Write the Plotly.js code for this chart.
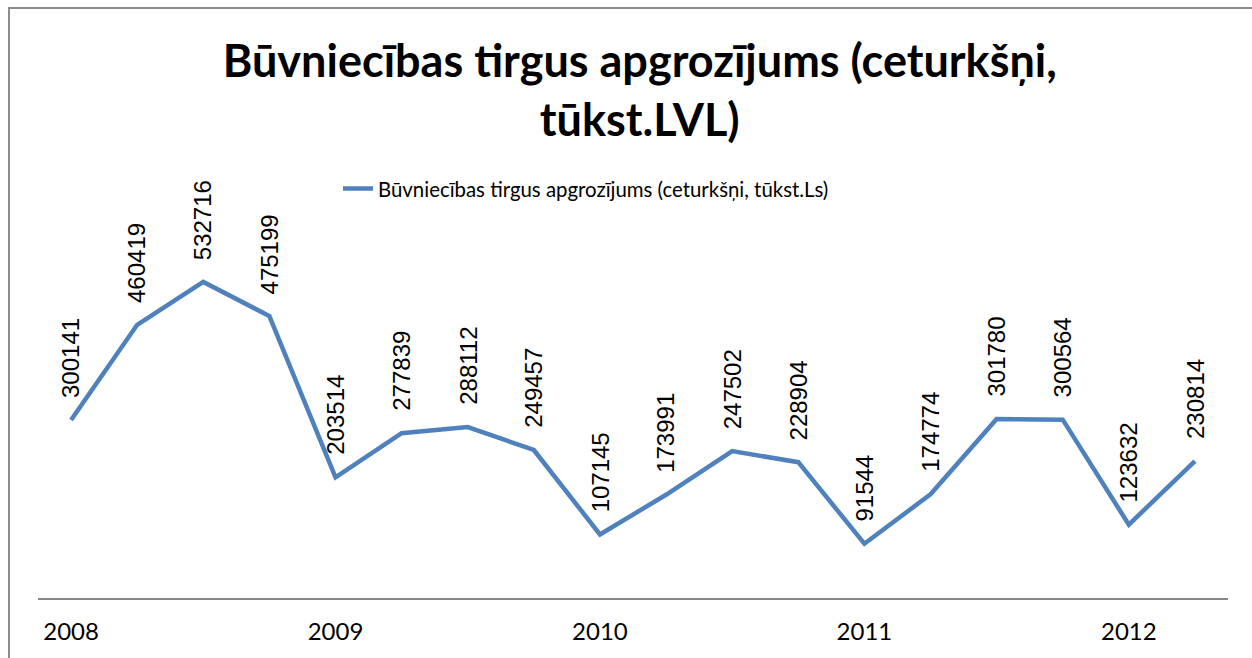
<!DOCTYPE html>
<html>
<head>
<meta charset="utf-8">
<script src="https://cdn.plot.ly/plotly-3.0.1.min.js"></script>
<style>
  body { margin: 0; background: #fff; }
  #chart { position: absolute; left: 0; top: 0; width: 1252px; height: 658px; }
  #frame { position: absolute; left: 8px; top: 7px; width: 1270px; height: 680px;
           border: 2px solid #8c8c8c; pointer-events: none; }
</style>
</head>
<body>
<div id="chart"></div>
<div id="frame"></div>
<script>
// ceturkšņi 2008 Q1 .. 2012 Q2
const quarters = ["2008 Q1", "2008 Q2", "2008 Q3", "2008 Q4",
                  "2009 Q1", "2009 Q2", "2009 Q3", "2009 Q4",
                  "2010 Q1", "2010 Q2", "2010 Q3", "2010 Q4",
                  "2011 Q1", "2011 Q2", "2011 Q3", "2011 Q4",
                  "2012 Q1", "2012 Q2"];
const turnover = [300141, 460419, 532716, 475199,
                  203514, 277839, 288112, 249457,
                  107145, 173991, 247502, 228904,
                  91544, 174774, 301780, 300564,
                  123632, 230814];
const yearTicks = ["2008 Q1", "2009 Q1", "2010 Q1", "2011 Q1", "2012 Q1"];
const yearLabels = ["2008", "2009", "2010", "2011", "2012"];

const seriesName = "Būvniecības tirgus apgrozījums (ceturkšņi, tūkst.Ls)";
const chartTitle = "Būvniecības tirgus apgrozījums (ceturkšņi,<br>tūkst.LVL)";

let trace = {
    x: quarters,
    y: turnover,
    type: 'scatter',
    mode: 'lines',
    name: seriesName,
    line: { color: '#4f81bd', width: 4.5 },
    showlegend: true
};

// vertikālās datu etiķetes virs punktiem
let labels = quarters.map((q, i) => ({
    x: q,
    y: turnover[i],
    xref: 'x',
    yref: 'y',
    text: String(turnover[i]),
    textangle: -90,
    showarrow: false,
    xanchor: 'center',
    yanchor: 'bottom',
    yshift: 20,
    font: { family: 'Liberation Sans, Arial, sans-serif', size: 24, color: '#000' }
}));

let layout = {
    width: 1252,
    height: 658,
    margin: { l: 38, r: 24, t: 242, b: 60 },
    paper_bgcolor: '#fff',
    plot_bgcolor: '#fff',
    title: {
        text: chartTitle,
        font: { family: 'Lato, sans-serif', size: 45, color: '#000', weight: 'bold' },
        x: 0.511,
        xanchor: 'center',
        y: 1 - 77 / 658,
        yanchor: 'middle',
        yref: 'container'
    },
    xaxis: {
        type: 'category',
        range: [-0.5, 17.5],
        tickvals: yearTicks,
        ticktext: yearLabels,
        showgrid: false,
        zeroline: false,
        showline: true,
        linecolor: '#888888',
        linewidth: 2,
        ticks: '',
        ticklabelstandoff: 11,
        tickfont: { family: 'Lato, sans-serif', size: 24, color: '#000' }
    },
    yaxis: {
        range: [0, 600000],
        visible: false,
        showgrid: false,
        zeroline: false
    },
    showlegend: true,
    legend: {
        orientation: 'h',
        x: (338 - 38) / 1190,
        xanchor: 'left',
        y: 1 + 53 / 355,
        yanchor: 'middle',
        font: { family: 'Lato, sans-serif', size: 20.4, color: '#000' },
        bgcolor: 'rgba(0,0,0,0)'
    },
    annotations: labels
};

Plotly.newPlot('chart', [trace], layout, { displayModeBar: false, staticPlot: true });
</script>
</body>
</html>
